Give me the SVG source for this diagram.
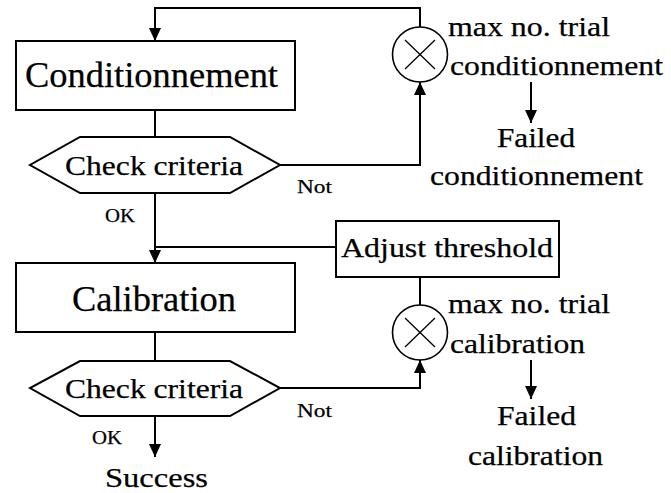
<svg xmlns="http://www.w3.org/2000/svg" width="671" height="493" viewBox="0 0 671 493">
  <style>
    .box { fill: #fff; stroke: #000; stroke-width: 2; }
    .ring { fill: #fff; stroke: #000; stroke-width: 1.6; }
    .cross { stroke: #000; stroke-width: 1.3; }
    .wire { fill: none; stroke: #000; stroke-width: 2; }
    text { fill: #000; stroke: #000; stroke-width: 0.25; }
    .big { font-size: 35px; }
    .mid { font-size: 28px; }
    .small { font-size: 19px; }
  </style>
  <defs>
    <marker id="arrow" viewBox="0 0 13 12" markerWidth="13" markerHeight="12" markerUnits="userSpaceOnUse" refX="13" refY="6" orient="auto">
      <path d="M0,0 L13,6 L0,12 z" fill="#000"/>
    </marker>
  </defs>
  <rect width="671" height="493" fill="#fff"/>

  <g id="connectors">
    <path class="wire" d="M420,27 V8 H155 V41" marker-end="url(#arrow)"/>
    <path class="wire" d="M155,110 V137"/>
    <path class="wire" d="M280,165 H420 V82" marker-end="url(#arrow)"/>
    <path class="wire" d="M155,193 V263" marker-end="url(#arrow)"/>
    <path class="wire" d="M336,247 H155"/>
    <path class="wire" d="M531,82 V123" marker-end="url(#arrow)"/>
    <path class="wire" d="M155,332 V361"/>
    <path class="wire" d="M280,388 H420 V360" marker-end="url(#arrow)"/>
    <path class="wire" d="M420,305 V277"/>
    <path class="wire" d="M155,416 V457" marker-end="url(#arrow)"/>
    <path class="wire" d="M531,360 V399" marker-end="url(#arrow)"/>
  </g>

  <g font-family="Liberation Serif, DejaVu Serif, serif">
    <g id="conditionnement">
      <rect class="box" x="16" y="41" width="279" height="69"/>
      <text class="big" x="25" y="87" textLength="253" lengthAdjust="spacingAndGlyphs">Conditionnement</text>
    </g>

    <g id="check1">
      <polygon class="box" points="80,137 230,137 280,165 230,193 80,193 30,165"/>
      <text class="mid" x="65" y="175" textLength="178" lengthAdjust="spacingAndGlyphs">Check criteria</text>
    </g>

    <g id="limit1">
      <circle class="ring" cx="420" cy="54.5" r="27.5"/>
      <line class="cross" x1="405" y1="40" x2="435" y2="69"/>
      <line class="cross" x1="435" y1="40" x2="405" y2="69"/>
      <text class="mid" x="448" y="36" textLength="162" lengthAdjust="spacingAndGlyphs">max no. trial</text>
      <text class="mid" x="450" y="75" textLength="213" lengthAdjust="spacingAndGlyphs">conditionnement</text>
    </g>

    <g id="failed1">
      <text class="mid" x="497" y="147" textLength="78" lengthAdjust="spacingAndGlyphs">Failed</text>
      <text class="mid" x="430" y="185" textLength="213" lengthAdjust="spacingAndGlyphs">conditionnement</text>
    </g>

    <g id="labels1">
      <text class="small" x="297" y="193" textLength="35" lengthAdjust="spacingAndGlyphs">Not</text>
      <text class="small" x="105" y="222" textLength="30" lengthAdjust="spacingAndGlyphs">OK</text>
    </g>

    <g id="adjust">
      <rect class="box" x="336" y="221" width="223" height="56"/>
      <text class="mid" x="341" y="257" textLength="212" lengthAdjust="spacingAndGlyphs">Adjust threshold</text>
    </g>

    <g id="calibration">
      <rect class="box" x="16" y="263" width="279" height="69"/>
      <text class="big" x="72" y="311" textLength="164" lengthAdjust="spacingAndGlyphs">Calibration</text>
    </g>

    <g id="check2">
      <polygon class="box" points="80,361 230,361 280,388 230,416 80,416 30,388"/>
      <text class="mid" x="65" y="398" textLength="178" lengthAdjust="spacingAndGlyphs">Check criteria</text>
    </g>

    <g id="limit2">
      <circle class="ring" cx="420" cy="332.5" r="27.5"/>
      <line class="cross" x1="405" y1="318" x2="435" y2="347"/>
      <line class="cross" x1="435" y1="318" x2="405" y2="347"/>
      <text class="mid" x="448" y="313" textLength="162" lengthAdjust="spacingAndGlyphs">max no. trial</text>
      <text class="mid" x="450" y="353" textLength="135" lengthAdjust="spacingAndGlyphs">calibration</text>
    </g>

    <g id="failed2">
      <text class="mid" x="497" y="425" textLength="79" lengthAdjust="spacingAndGlyphs">Failed</text>
      <text class="mid" x="468" y="465" textLength="135" lengthAdjust="spacingAndGlyphs">calibration</text>
    </g>

    <g id="labels2">
      <text class="small" x="297" y="417" textLength="35" lengthAdjust="spacingAndGlyphs">Not</text>
      <text class="small" x="92" y="444" textLength="30" lengthAdjust="spacingAndGlyphs">OK</text>
    </g>

    <g id="success">
      <text class="mid" x="105" y="487" textLength="103" lengthAdjust="spacingAndGlyphs">Success</text>
    </g>
  </g>
</svg>
